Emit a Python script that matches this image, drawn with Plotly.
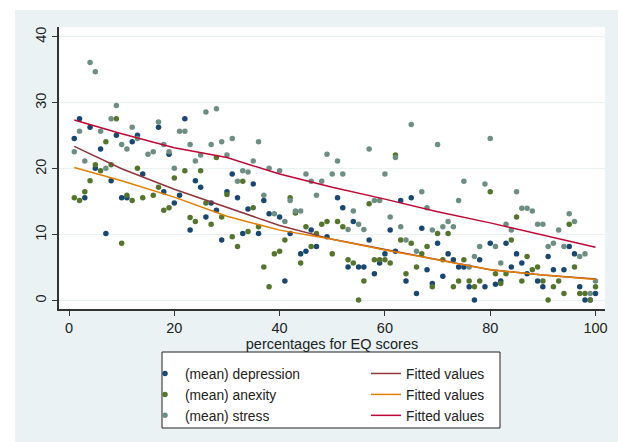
import plotly.graph_objects as go

# ---------------- data ----------------
dep_x = [1,2,3,4,5,6,7,8,9,10,11,12,13,14,17,18,19,20,21,22,23,24,25,26,27,28,29,30,31,32,33,34,35,36,37,38,40,41,42,44,45,46,47,49,51,52,53,54,55,56,57,58,59,60,61,62,63,64,65,66,67,68,69,70,71,72,73,74,75,76,77,78,79,80,81,82,83,84,85,86,87,89,90,91,92,94,95,96,97,98,99,100]
dep_y = [24.6,27.6,15.6,26.3,20.1,23.0,10.2,18.2,25.1,15.6,15.6,24.1,25.1,19.2,26.3,16.5,22.2,14.8,16.0,27.6,10.7,18.2,17.2,12.7,14.8,13.7,9.2,16.5,19.2,15.6,10.2,13.9,17.7,10.2,15.2,13.2,12.7,3.0,10.2,7.1,7.5,10.7,8.2,9.7,15.6,14.1,5.1,12.0,5.1,5.1,9.2,4.1,5.7,7.1,10.7,7.5,15.2,3.0,15.6,1.1,11.0,4.7,2.6,8.7,3.7,7.1,6.2,5.1,5.1,2.1,0.1,6.2,2.1,8.7,2.5,3.0,8.7,5.1,7.1,5.7,4.1,3.0,2.1,6.7,4.7,4.7,8.2,7.1,2.1,0.1,0.1,1.1]

anx_x = [1,2,3,4,5,6,7,8,9,10,11,12,13,14,16,17,18,19,20,22,23,24,25,26,27,28,29,30,31,32,33,34,35,36,37,38,39,40,41,42,43,44,45,46,47,48,49,50,51,52,53,54,55,56,57,58,59,60,61,62,63,64,65,66,67,68,69,70,71,72,73,74,75,76,77,78,80,81,82,83,84,85,86,87,88,89,90,91,92,93,94,95,96,97,98,99,100]
anx_y = [15.6,15.2,16.5,18.2,20.6,19.7,24.1,20.6,27.6,8.7,16.0,15.2,20.1,15.6,16.0,17.2,13.7,14.1,18.6,19.7,12.6,12.0,19.7,14.8,11.6,21.7,12.7,16.1,9.7,8.2,18.1,10.5,14.1,11.2,5.1,2.1,7.1,7.5,9.2,15.6,13.3,5.7,11.2,8.2,10.2,11.6,12.0,7.1,12.0,11.2,6.2,5.7,0.1,3.0,14.7,6.2,6.2,6.2,5.7,22.1,9.2,4.1,8.7,5.1,7.1,8.2,2.1,10.2,6.2,10.2,2.1,3.0,6.2,3.0,2.1,3.0,16.5,4.1,2.6,4.1,9.2,12.7,3.0,6.7,4.7,5.1,3.0,0.1,2.1,3.0,1.1,11.6,5.1,1.1,1.1,0.1,2.1]

str_x = [1,2,3,4,5,6,7,8,9,10,11,12,13,15,16,17,18,19,20,21,22,23,24,25,26,27,28,29,30,31,32,33,34,35,36,37,38,39,40,41,42,43,44,45,46,47,48,49,50,51,52,53,54,55,56,57,58,59,60,61,62,63,64,65,66,67,68,69,70,71,72,73,74,75,76,77,78,79,80,81,82,83,84,85,86,87,88,89,90,91,92,93,94,95,96,97,98,99,100]
str_y = [22.6,25.7,21.2,36.1,34.7,25.7,20.1,27.6,29.6,23.7,23.0,26.3,24.6,22.2,22.6,27.1,23.7,22.6,20.1,25.7,25.7,23.7,21.2,22.1,28.6,23.7,29.1,24.1,22.1,24.6,18.1,19.7,19.5,21.2,24.1,16.0,20.1,13.2,19.7,12.0,15.2,13.6,13.6,19.2,18.1,16.0,18.1,22.2,19.2,21.2,19.2,10.8,13.6,11.6,10.8,23.0,15.2,15.2,19.2,12.7,21.7,11.2,9.2,26.7,7.5,16.5,14.1,10.7,23.7,11.2,12.0,11.2,15.2,18.1,5.1,6.7,8.2,17.7,24.6,8.2,5.7,11.6,10.7,16.5,14.0,14.0,13.6,11.6,11.6,8.2,8.7,10.7,8.2,13.2,12.0,6.7,7.1,1.1,3.0]

fit_x = [1, 10, 20, 30, 40, 50, 60, 70, 80, 90, 100]
fit_dep = [23.4, 20.0, 16.9, 14.2, 11.4, 9.3, 7.8, 6.2, 4.7, 3.9, 3.3]
fit_anx = [20.2, 18.2, 15.7, 12.8, 10.7, 9.3, 7.7, 6.2, 4.7, 3.9, 3.2]
fit_str = [27.4, 25.3, 23.2, 21.7, 19.2, 17.2, 15.4, 13.5, 11.8, 10.0, 8.1]

x_ticks = [0, 20, 40, 60, 80, 100]
y_ticks = [0, 10, 20, 30, 40]

names_pts = ["(mean) depression", "(mean) anexity", "(mean) stress"]
name_fit = "Fitted values"

# ---------------- styling ----------------
FONT = "Liberation Sans, Arial, sans-serif"
C_DEP, C_ANX, C_STR = "#1a476f", "#55752f", "#6e8e84"
C_FDEP, C_FANX, C_FSTR = "#90353b", "#e37e00", "#c10534"
PANEL = "#eaf2f3"
TXT = "#222222"

fig = go.Figure()

for xs, ys, nm, col in [(dep_x, dep_y, names_pts[0], C_DEP),
                        (anx_x, anx_y, names_pts[1], C_ANX),
                        (str_x, str_y, names_pts[2], C_STR)]:
    fig.add_trace(go.Scatter(x=xs, y=ys, mode="markers", name=nm,
                             marker=dict(color=col, size=5.5, line=dict(width=0)),
                             legend="legend"))

for ys, col in [(fit_dep, C_FDEP), (fit_anx, C_FANX), (fit_str, C_FSTR)]:
    fig.add_trace(go.Scatter(x=fit_x, y=ys, mode="lines", name=name_fit,
                             line=dict(color=col, width=1.5),
                             legend="legend2"))

W, H = 618, 442
L, R, T, B = 59, 13, 27, 133
pw, ph = W - L - R, H - T - B

def px(xp):
    return (xp - L) / pw

def py(yp):
    return (H - B - yp) / ph

shapes = [
    # white outer border strips
    dict(type="rect", xref="paper", yref="paper", x0=px(0), x1=px(15), y0=py(H), y1=py(0),
         fillcolor="white", line=dict(width=0), layer="below"),
    dict(type="rect", xref="paper", yref="paper", x0=px(0), x1=px(W), y0=py(10), y1=py(0),
         fillcolor="white", line=dict(width=0), layer="below"),
    # legend box
    dict(type="rect", xref="paper", yref="paper", x0=px(162), x1=px(500), y0=py(428), y1=py(352),
         fillcolor="white", line=dict(color="#222222", width=1), layer="below"),
]

FS = 14.5
LFS = 13.8
fig.update_layout(
    width=W, height=H,
    margin=dict(l=L, r=R, t=T, b=B, pad=0, autoexpand=False),
    paper_bgcolor=PANEL, plot_bgcolor="white",
    font=dict(family=FONT, size=FS, color=TXT),
    shapes=shapes,
    xaxis=dict(range=[-1.9, 101.8], tickvals=x_ticks, showgrid=False, zeroline=False,
               showline=True, linecolor="#333333", linewidth=1.5,
               ticks="outside", ticklen=5, tickcolor="#333333", tickwidth=1.2,
               tickfont=dict(size=FS, color=TXT), automargin=False,
               title=dict(text="percentages for EQ scores", standoff=0,
                          font=dict(size=FS, color=TXT))),
    yaxis=dict(range=[-1.26, 41.5], tickvals=y_ticks, showgrid=True, gridcolor=PANEL, gridwidth=1.2,
               zeroline=False, showline=True, linecolor="#333333", linewidth=1.5,
               ticks="outside", ticklen=5, tickcolor="#333333", tickwidth=1.2, automargin=False,
               tickangle=-90, tickfont=dict(size=FS, color=TXT)),
    legend=dict(x=px(145), y=py(358), xanchor="left", yanchor="top",
                bgcolor="rgba(0,0,0,0)", borderwidth=0, orientation="v",
                font=dict(size=LFS, color=TXT), tracegroupgap=0),
    legend2=dict(x=px(366), y=py(358), xanchor="left", yanchor="top",
                 bgcolor="rgba(0,0,0,0)", borderwidth=0, orientation="v",
                 font=dict(size=LFS, color=TXT), tracegroupgap=0),
)

fig.write_html("out.html", config={"displayModeBar": False},
               post_script="document.body.style.margin='0px';")
